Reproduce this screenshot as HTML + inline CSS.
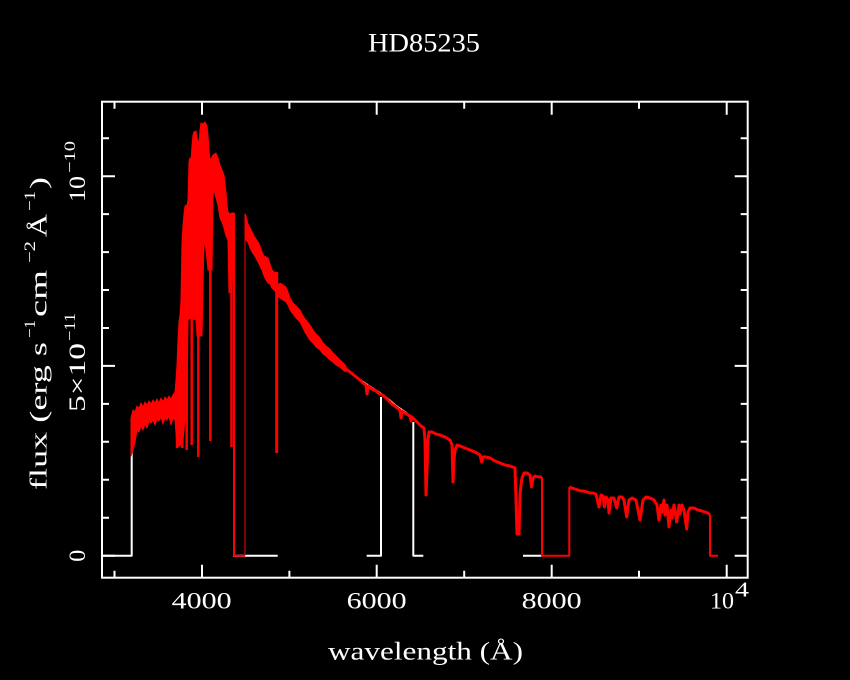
<!DOCTYPE html>
<html>
<head>
<meta charset="utf-8">
<style>
  html, body { margin: 0; padding: 0; background: #000; }
  body { width: 850px; height: 680px; overflow: hidden; }
  svg { display: block; }
  text { font-family: "Liberation Serif", "DejaVu Serif", serif; fill: #fff; }
</style>
</head>
<body>
<svg width="850" height="680" viewBox="0 0 850 680" xmlns="http://www.w3.org/2000/svg">
  <rect x="0" y="0" width="850" height="680" fill="#000"/>

  <!-- Title -->
  <text x="368" y="51.7" font-size="26" textLength="112" lengthAdjust="spacingAndGlyphs">HD85235</text>

  <!-- White model line segments -->
  <g fill="none" stroke="#fff" stroke-width="2" stroke-linejoin="round">
    <path d="M102,555.7 H131.7 V443"/>
    <path d="M233,555.7 H277.7"/>
    <path d="M366.7,555.7 H381 V397"/>
    <path d="M413.3,422 V555.7 H423.3"/>
    <path d="M523,555.7 H542"/>
    <polyline points="358,378.5 366,384 372,388 380,393 388,399 396,406 405,412 413,418.5"/>
  </g>

  <!-- Red observed spectrum -->
  <g fill="#ff0000" stroke="#ff0000" stroke-width="1" stroke-linejoin="round">
    <polygon points="131,418 133,410 135,412 137,406 139,408 141,403 143,407 145,402 147,405 149,401 151,404 153,400 155,403 157,399 159,403 161,398 163,402 165,397 167,400 169,396 171,399 173,395 175,392 175,420 173,418 171,425 169,416 167,420 165,418 163,424 161,417 159,421 157,419 155,425 153,420 151,423 149,421 147,428 145,424 143,430 141,426 139,432 137,430 135,442 133,450 131,456"/>
    <polygon points="175,392 176,380 177,365 178,340 179,322 180,315 181,300 182,243 183,225 184,214 185,206 187,205 188,200 189,162 190,158 191,160 192,146 193,135 194,132 196,131 197,138 198,140 199,146 200,130 201,123 203,124 205,122 207,126 208,135 209,150 210,160 212,157 213,155 216,153 218,158 220,165 222,170 224,175 226,192 227,205 228,212 230,214 232,213 234,213 234,240 232,290 229,293 228,240 226,236 224,228 222,222 220,218 218,205 216,198 214,190 213,195 212,270 208,270 206,250 204,240 202,336 197,336 196,320 190,318 188,320 187,400 185,420 183,440 180,446 177,446 175,420"/>
    <polygon points="245,214 246,216 248,224 250,228 252,232 254,236 256,239 258,242 260,246 262,252 264,256 266,257 268,258 270,264 272,270 274,272 276,274 276,292 274,290 272,288 270,284 268,283 266,280 264,276 262,270 260,266 258,262 256,258 254,255 252,252 250,248 248,242 246,240 245,230"/>
    <polygon points="278,285 280,283 283,285 286,287 288,292 290,298 293,303 296,306 300,310 303,316 306,320 310,325 313,330 316,334 320,338 323,343 326,346 330,349 333,353 336,356 340,360 343,363 346,366 346,372 343,370 340,367 336,365 333,362 330,360 326,356 323,354 320,350 316,347 313,343 310,340 306,334 303,328 300,322 296,318 293,314 290,310 288,305 286,302 283,300 280,298 278,296"/>
  </g>

  <g fill="none" stroke="#ff0000" stroke-linejoin="round" stroke-linecap="butt">
    <g stroke-width="2.5">
      <path d="M177,390 V448"/>
      <path d="M182.3,300 V448"/>
      <path d="M186.7,300 V450"/>
      <path d="M191.7,300 V445"/>
      <path d="M198.3,300 V457"/>
      <path d="M210.3,255 V441"/>
      <path d="M231.5,280 V447"/>
      <path d="M276.7,272 V453" stroke-width="3"/>
    </g>
    <path d="M234,213 V555.7 H245" stroke-width="2"/>
    <path d="M245,555.7 V214" stroke-width="1"/>
    <polyline stroke-width="3" points="345,368 350,372 355,376 360,380 363,383 366,385 367,394 368,386 372,389 376,391 380,394 384,396 388,400 392,404 396,407 400,410 401,418 402,411 405,413 408,415 410,416 411,421 412,417 415,420 418,423 421,426 424,428 425,440 426,495 427,470 428,440 429,432 432,432 436,434 440,435 445,437 450,440 452,445 453,482 454,460 455,450 457,445 460,446 465,448 470,450 475,452 480,455 481.7,462 483,457 486,457 490,458 495,461 500,463 505,465 510,466 515,468 516,500 517,534 518,515 519,534 520,495 521,485 522,478 524,473 527,473 530,475 531.5,487 533,478 535,476 538,477 541,477 542,477"/>
    <path d="M542,477 V555.7 H569.3 V487" stroke-width="2"/>
    <polyline stroke-width="3" points="569.3,487 572,488 575,489 578,490 581,491 584,491 587,492 590,493 593,493 596,494 599,507 601,495 603,496 604.5,507 606,497 608,500 609,513 611,498 614,498 616.7,508 619,497 622,497 624,500 626.7,517 629,500 632,498 636,500 640,520 643,500 646,497 650,498 654,500 657,505 659,520 661,505 662,512 664,500 665,515 667,505 669,527 671,510 672,518 674,505 676.7,522 679,505 680,514 682,505 684,510 686.7,529 688,512 690,508 694,508 698,510 702,511 705,512 708,513 710,515"/>
    <path d="M710,515 V555.7 H718" stroke-width="2"/>
  </g>

  <!-- Frame -->
  <rect x="102" y="101.7" width="645.7" height="476" fill="none" stroke="#fff" stroke-width="2"/>

  <!-- Ticks -->
  <g stroke="#fff" stroke-width="2" fill="none">
    <path d="M202,577.7V564.7 M376.7,577.7V564.7 M551.7,577.7V564.7 M726.7,577.7V564.7"/>
    <path d="M114.5,577.7V570.7 M289.4,577.7V570.7 M464.2,577.7V570.7 M639,577.7V570.7"/>
    <path d="M202,101.7V114.7 M376.7,101.7V114.7 M551.7,101.7V114.7 M726.7,101.7V114.7"/>
    <path d="M114.5,101.7V108.7 M289.4,101.7V108.7 M464.2,101.7V108.7 M639,101.7V108.7"/>
    <path d="M102,555.7H115 M102,365.9H115 M102,176.2H115"/>
    <path d="M102,517.7H109 M102,479.8H109 M102,441.8H109 M102,403.9H109 M102,328H109 M102,290H109 M102,252.1H109 M102,214.1H109 M102,138.2H109"/>
    <path d="M747.7,555.7H734.7 M747.7,365.9H734.7 M747.7,176.2H734.7"/>
    <path d="M747.7,517.7H740.7 M747.7,479.8H740.7 M747.7,441.8H740.7 M747.7,403.9H740.7 M747.7,328H740.7 M747.7,290H740.7 M747.7,252.1H740.7 M747.7,214.1H740.7 M747.7,138.2H740.7"/>
  </g>

  <!-- X tick labels -->
  <text x="171.7" y="608.3" font-size="23" textLength="60" lengthAdjust="spacingAndGlyphs">4000</text>
  <text x="346.7" y="608.3" font-size="23" textLength="60" lengthAdjust="spacingAndGlyphs">6000</text>
  <text x="521.7" y="608.3" font-size="23" textLength="60" lengthAdjust="spacingAndGlyphs">8000</text>
  <text x="710" y="608.3" font-size="23" textLength="24" lengthAdjust="spacingAndGlyphs">10</text>
  <text x="735" y="596.7" font-size="21" textLength="14" lengthAdjust="spacingAndGlyphs">4</text>

  <!-- X label -->
  <text x="328" y="659.3" font-size="25" textLength="195" lengthAdjust="spacingAndGlyphs">wavelength (Å)</text>

  <!-- Y tick labels (rotated) -->
  <text transform="translate(85,561.7) rotate(-90)" font-size="23" textLength="12" lengthAdjust="spacingAndGlyphs">0</text>
  <text transform="translate(85,412) rotate(-90)" font-size="23" textLength="69" lengthAdjust="spacingAndGlyphs">5×10</text>
  <text transform="translate(75,341) rotate(-90)" font-size="16" textLength="28" lengthAdjust="spacingAndGlyphs">−11</text>
  <text transform="translate(85,202) rotate(-90)" font-size="23" textLength="26" lengthAdjust="spacingAndGlyphs">10</text>
  <text transform="translate(75,173) rotate(-90)" font-size="16" textLength="32" lengthAdjust="spacingAndGlyphs">−10</text>

  <!-- Y label (rotated) -->
  <text transform="translate(46.7,490) rotate(-90)" font-size="24" textLength="148" lengthAdjust="spacingAndGlyphs">flux (erg s</text>
  <text transform="translate(35,338) rotate(-90)" font-size="16" textLength="18" lengthAdjust="spacingAndGlyphs">−1</text>
  <text transform="translate(46.7,317) rotate(-90)" font-size="24" textLength="47" lengthAdjust="spacingAndGlyphs">cm</text>
  <text transform="translate(35,263) rotate(-90)" font-size="16" textLength="22" lengthAdjust="spacingAndGlyphs">−2</text>
  <text transform="translate(46.7,237) rotate(-90)" font-size="24" textLength="23" lengthAdjust="spacingAndGlyphs">Å</text>
  <text transform="translate(35,211) rotate(-90)" font-size="16" textLength="20" lengthAdjust="spacingAndGlyphs">−1</text>
  <text transform="translate(46.7,189) rotate(-90)" font-size="24" textLength="12" lengthAdjust="spacingAndGlyphs">)</text>
</svg>
</body>
</html>
